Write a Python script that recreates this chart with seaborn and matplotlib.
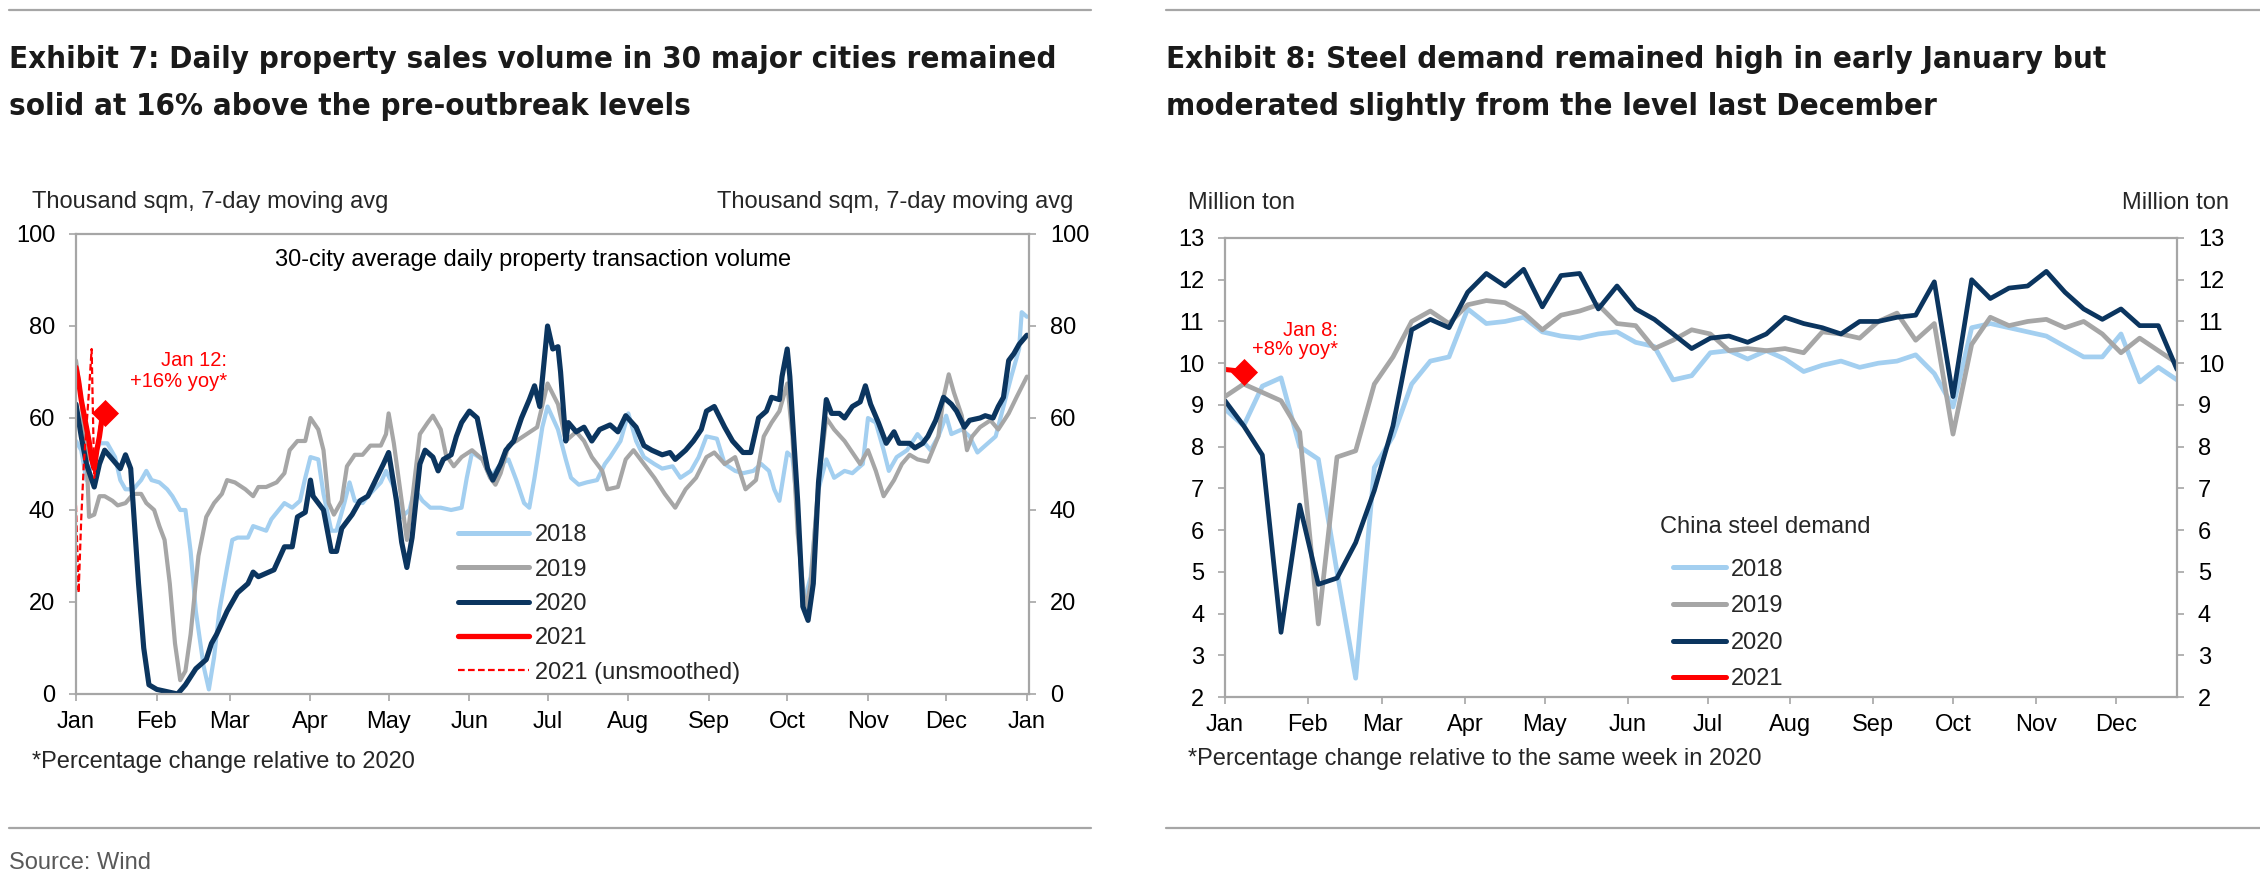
import numpy as np
import pandas as pd
import seaborn as sns
import matplotlib.pyplot as plt
from matplotlib import font_manager as fm
from matplotlib.lines import Line2D

# ---------------- Exhibit 7: daily sales, (day of year, thousand sqm)
sales_2018 = [(0,55),(2,53),(4,46.5),(6,50),(9,54.5),(12,54.5),(15,51.5),(17,46.5),(19,44.5),(22,44.5),
              (25,46.5),(27,48.5),(29,46.5),(32,46),(35,44.5),(37,43),(40,40),(42,40),(44,31),(46,18),
              (49,6),(51,1),(53,8),(55,18),(58,27.5),(60,33.5),(62,34),(66,34),(68,36.5),(73,35.5),
              (75,38),(80,41.5),(83,40.5),(86,42),(88,47),(90,51.5),(93,51),(95,43.5),(98,35.5),(100,35.5),
              (103,41.5),(105,46),(107,42),(110,41.5),(112,43),(117,46),(119,48.5),(122,45),(125,38.5),(128,40),
              (130,44.5),(133,42),(136,40.5),(140,40.5),(144,40),(148,40.5),(150,47),(152,52.5),(156,51),(159,47),
              (163,50),(166,51),(169,46.5),(172,41.5),(174,40.5),(176,47),(179,58),(181,62.5),(185,57.5),(188,51),
              (190,47),(193,45.5),(196,46),(200,46.5),(203,50),(205,51.5),(209,55),(212,61),(215,55),(218,51.5),
              (222,50),(225,49),(229,49.5),(232,47),(236,48.5),(239,51.5),(242,56),(246,55.5),(249,50),(253,48.5),
              (256,48),(260,48.5),(263,50),(266,48.5),(268,44.5),(270,42),(273,52.5),(275,51.5),(277,40),(279,19),
              (282,25.5),(285,44.5),(288,51),(291,47),(295,48.5),(298,48),(302,50),(304,60),(307,59),(310,53),
              (312,48.5),(315,51.5),(319,53),(323,56.5),(328,53),(331,56),(334,60.5),(336,56.5),(340,57.5),(343,56),
              (346,52.5),(350,54.5),(353,56),(356,62.5),(359,69),(362,75),(363,83),(365,82)]

sales_2019 = [(0,72.5),(2,64),(4,53),(5,38.5),(7,39),(9,43),(11,43),(14,42),(16,41),(19,41.5),
              (22,43.5),(25,43.5),(27,41.5),(30,40),(32,36.5),(34,33.5),(36,24),(38,11),(40,3),(42,5),
              (44,13),(47,30),(50,38.5),(53,41.5),(56,43.5),(58,46.5),(61,46),(65,44.5),(68,43),(70,45),
              (73,45),(77,46),(80,48),(82,53),(85,55),(88,55),(90,60),(93,57.5),(95,53),(97,41.5),
              (99,39),(102,42),(104,49.5),(107,52),(110,52),(113,54),(117,54),(119,56.5),(120,61),(122,54.5),
              (125,42),(127,33.5),(129,42),(132,56.5),(135,59),(137,60.5),(140,57.5),(142,52),(145,49.5),(148,51.5),
              (152,53),(156,51),(159,47),(161,45.5),(163,48),(166,54),(169,55),(173,56.5),(177,58),(181,67.5),
              (185,63),(188,55),(192,57),(195,55),(198,51.5),(202,48.5),(204,44.5),(208,45),(211,51),(214,53),
              (218,50),(222,47),(226,43.5),(230,40.5),(234,44.5),(238,47),(242,51.5),(245,52.5),(249,50),(253,51.5),
              (257,44.5),(261,46.5),(264,56),(267,59),(270,61.5),(273,67.5),(275,56),(277,35),(280,18),(282,24),
              (285,46),(288,60),(291,57.5),(295,55),(298,52.5),(301,50),(304,53),(307,48.5),(310,43),(314,46.5),
              (317,50),(320,52),(323,51),(327,50.5),(331,56),(333,64.5),(335,69.5),(337,65.5),(340,60.5),(342,53),
              (344,56),(347,58),(351,59.5),(354,57.5),(358,61),(361,64.5),(365,69)]

sales_2020 = [(0,63),(2,56),(4,50),(7,45),(9,50),(11,53),(14,51),(17,49),(19,52),(21,49),
              (24,24),(26,10),(28,2),(31,1),(39,0),(42,2),(46,5.5),(50,7.5),(52,11),(54,13),
              (58,18),(62,22),(66,24),(68,26.5),(70,25.5),(76,27),(80,32),(83,32),(85,38.5),(88,39.5),
              (90,46.5),(91,43),(95,40),(98,31),(100,31),(102,36),(106,39),(109,42),(112,43),(115,46.5),
              (118,50),(120,52.5),(123,42),(125,33),(127,27.5),(129,34),(132,50),(134,53),(137,51.5),(139,48.5),
              (141,51),(144,52),(146,56),(148,59),(151,61.5),(154,60),(156,54.5),(158,49),(160,46.5),(163,50),
              (165,53),(168,55),(171,60),(174,64),(176,67),(178,62.5),(181,80),(183,75),(185,75.5),(186,70),
              (188,55),(189,59),(192,57),(195,58),(198,55),(201,57.5),(205,58.5),(208,57),(211,60.5),(215,58),
              (218,54),(221,53),(225,52),(228,52.5),(230,51),(234,53),(237,55),(240,57.5),(242,61.5),(245,62.5),
              (249,58),(252,55),(256,52.5),(259,52.5),(262,60),(265,61.5),(267,64.5),(270,64),(271,69),(273,75),
              (274,69),(277,42),(279,19),(281,16),(283,24),(285,46),(288,64),(290,61),(293,61),(295,60),
              (298,62.5),(301,63.5),(303,67),(305,63),(308,59),(311,54.5),(314,57),(316,54.5),(320,54.5),(322,53.5),
              (325,54.5),(327,56),(330,59.5),(333,64.5),(336,63),(338,61.5),(341,58),(343,59.5),(347,60),(349,60.5),
              (352,60),(354,62.5),(356,64.5),(358,72.5),(360,74),(362,76),(365,78)]

days_2021 = [0, 1, 2, 3, 4, 5, 6, 7, 8, 9, 10, 11]
sales_2021 = [71, 68, 64, 61, 58, 55, 51, 49, 53, 56, 60, 61]
sales_2021_raw = [41, 22, 38, 50, 58, 66, 75, 47, 52, 58, 60, 61]

month_days = [0, 31, 59, 90, 120, 151, 181, 212, 243, 273, 304, 334, 365]
month_labels = ['Jan', 'Feb', 'Mar', 'Apr', 'May', 'Jun', 'Jul', 'Aug', 'Sep', 'Oct', 'Nov', 'Dec', 'Jan']

# ---------------- Exhibit 8: weekly steel demand, million ton
week_days = list(range(0, 358, 7))
steel_2018 = [8.9,8.5,9.45,9.65,8.0,7.7,5.0,2.45,7.5,8.25,9.5,10.05,10.15,11.3,10.95,11.0,11.1,10.75,10.65,10.6,
              10.7,10.75,10.5,10.4,9.6,9.7,10.25,10.3,10.1,10.3,10.1,9.8,9.95,10.05,9.9,10.0,10.05,10.2,9.75,8.95,
              10.85,10.95,10.85,10.75,10.65,10.4,10.15,10.15,10.7,9.55,9.9,9.6]
steel_2019 = [9.2,9.5,9.3,9.1,8.35,3.75,7.75,7.9,9.5,10.15,11.0,11.25,10.95,11.4,11.5,11.45,11.2,10.8,11.15,11.25,
              11.4,10.95,10.9,10.35,10.55,10.8,10.7,10.3,10.35,10.3,10.35,10.25,10.75,10.7,10.6,11.0,11.2,10.55,10.95,8.3,
              10.45,11.1,10.9,11.0,11.05,10.85,11.0,10.7,10.25,10.6,10.3,10.0]
steel_2020 = [9.1,8.5,7.8,3.55,6.6,4.7,4.85,5.7,6.95,8.5,10.8,11.05,10.85,11.7,12.15,11.85,12.25,11.35,12.1,12.15,
              11.3,11.85,11.3,11.05,10.7,10.35,10.6,10.65,10.5,10.7,11.1,10.95,10.85,10.7,11.0,11.0,11.1,11.15,11.95,9.2,
              12.0,11.55,11.8,11.85,12.2,11.7,11.3,11.05,11.3,10.9,10.9,9.85]
steel_2021 = [9.85, 9.8]

colors = {'2018': '#A3CFF0', '2019': '#A6A6A6', '2020': '#0B355F', '2021': '#FF0000'}

sns.set_theme(style='white')
plt.rcParams['font.family'] = ['Liberation Sans', 'DejaVu Sans']

# a narrow bold face for the headlines if one is installed
title_fp = None
for f in fm.fontManager.ttflist:
    bold = f.weight in ('bold', 700, 'heavy', 800) or str(f.weight) in ('700', '800')
    narrow = ('Narrow' in f.name or 'Condensed' in f.name
              or f.stretch in ('condensed', 'semi-condensed', 'extra-condensed', 500 - 100, 300, 200))
    if bold and narrow and f.style == 'normal':
        title_fp = fm.FontProperties(fname=f.fname)
        break
if title_fp is None:
    title_fp = fm.FontProperties(family='Liberation Sans', weight='bold')

W, H = 2260, 886
fig = plt.figure(figsize=(W / 100, H / 100), dpi=100)


def fx(px):
    return px / W


def fy(py):
    return 1 - py / H


ax1 = fig.add_axes([fx(76), fy(694), (1029 - 76) / W, (694 - 234) / H])
ax2 = fig.add_axes([fx(1225), fy(697), (2177 - 1225) / W, (697 - 238) / H])

# left chart lines
for yr, pts, lw in [('2018', sales_2018, 3.0), ('2019', sales_2019, 3.0), ('2020', sales_2020, 3.7)]:
    d = pd.DataFrame(pts, columns=['day', 'value'])
    sns.lineplot(data=d, x='day', y='value', ax=ax1, color=colors[yr], linewidth=lw,
                 estimator=None, legend=False)
d21 = pd.DataFrame({'day': days_2021, 'smooth': sales_2021, 'raw': sales_2021_raw})
sns.lineplot(data=d21, x='day', y='raw', ax=ax1, color=colors['2021'], linewidth=1.6,
             linestyle=(0, (3, 1.5)), estimator=None, legend=False)
sns.lineplot(data=d21, x='day', y='smooth', ax=ax1, color=colors['2021'], linewidth=3.8,
             estimator=None, legend=False)
sns.scatterplot(data=d21.tail(1), x='day', y='smooth', ax=ax1, color=colors['2021'],
                marker='D', s=190, linewidth=0, legend=False, zorder=5)

# right chart lines
steel = pd.DataFrame({'day': week_days, '2018': steel_2018, '2019': steel_2019, '2020': steel_2020})
for yr in ['2018', '2019', '2020']:
    sns.lineplot(data=steel, x='day', y=yr, ax=ax2, color=colors[yr], linewidth=3.4,
                 estimator=None, legend=False)
s21 = pd.DataFrame({'day': week_days[:len(steel_2021)], 'value': steel_2021})
sns.lineplot(data=s21, x='day', y='value', ax=ax2, color=colors['2021'], linewidth=3.6,
             estimator=None, legend=False)
sns.scatterplot(data=s21.tail(1), x='day', y='value', ax=ax2, color=colors['2021'],
                marker='D', s=190, linewidth=0, legend=False, zorder=5)

# axes styling
ax1.set_xlim(0, 365.8)
ax1.set_ylim(0, 100)
ax1.set_yticks(range(0, 101, 20))
ax1.set_xticks(month_days)
ax1.set_xticklabels(month_labels)
ax2.set_xlim(0, 357)
ax2.set_ylim(2, 13)
ax2.set_yticks(range(2, 14))
ax2.set_xticks(month_days[:-1])
ax2.set_xticklabels(month_labels[:-1])

for ax in (ax1, ax2):
    ax.set_xlabel('')
    ax.set_ylabel('')
    for s in ax.spines.values():
        s.set_color('#A6A6A6')
        s.set_linewidth(1.6)
    ax.tick_params(axis='both', direction='out', length=5, width=1.2, color='#A6A6A6',
                   labelsize=17, labelcolor='black')
    ax.tick_params(axis='y', left=True, right=True, labelleft=True, labelright=True, pad=10)
    ax.tick_params(axis='x', bottom=True, pad=7)

ax1.text(0.48, 0.943, '30-city average daily property transaction volume', transform=ax1.transAxes,
         ha='center', va='center', fontsize=17, color='black')

# legends
h1 = [Line2D([], [], color=colors['2018'], lw=3.6),
      Line2D([], [], color=colors['2019'], lw=3.6),
      Line2D([], [], color=colors['2020'], lw=3.6),
      Line2D([], [], color=colors['2021'], lw=3.8),
      Line2D([], [], color=colors['2021'], lw=1.6, ls=(0, (3, 1.5)))]
fig.legend(h1, ['2018', '2019', '2020', '2021', '2021 (unsmoothed)'], loc='center left',
           bbox_to_anchor=(fx(458), fy(604)), frameon=False, fontsize=17, handlelength=3.0,
           handletextpad=0.25, labelspacing=0.52, borderpad=0, borderaxespad=0)
h2 = [Line2D([], [], color=colors[y], lw=3.6) for y in ['2018', '2019', '2020', '2021']]
fig.legend(h2, ['2018', '2019', '2020', '2021'], loc='center left',
           bbox_to_anchor=(fx(1673), fy(624.5)), frameon=False, fontsize=17, handlelength=2.25,
           handletextpad=0.2, labelspacing=0.62, borderpad=0, borderaxespad=0)
fig.text(fx(1660), fy(527), 'China steel demand', ha='left', va='center', fontsize=17)

# annotations
fig.text(fx(227), fy(371), 'Jan 12:\n+16% yoy*', ha='right', va='center', fontsize=14.5,
         color='#FF0000', linespacing=1.1, multialignment='right')
fig.text(fx(1338), fy(340), 'Jan 8:\n+8% yoy*', ha='right', va='center', fontsize=14.5,
         color='#FF0000', linespacing=1.05, multialignment='right')

# axis unit labels
fig.text(fx(32), fy(202), 'Thousand sqm, 7-day moving avg', ha='left', va='center', fontsize=17)
fig.text(fx(1073), fy(202), 'Thousand sqm, 7-day moving avg', ha='right', va='center', fontsize=17)
fig.text(fx(1188), fy(203), 'Million ton', ha='left', va='center', fontsize=17)
fig.text(fx(2229), fy(203), 'Million ton', ha='right', va='center', fontsize=17)

# footnotes and source
fig.text(fx(32), fy(762), '*Percentage change relative to 2020', ha='left', va='center', fontsize=17)
fig.text(fx(1188), fy(759), '*Percentage change relative to the same week in 2020', ha='left',
         va='center', fontsize=17)
fig.text(fx(9), fy(863), 'Source: Wind', ha='left', va='center', fontsize=17, color='#595959')

# rules
for x0, x1 in [(9, 1091), (1166, 2260)]:
    for yy in (10, 828):
        fig.add_artist(Line2D([fx(x0), fx(x1)], [fy(yy), fy(yy)], transform=fig.transFigure,
                              color='#A6A6A6', lw=1.6))

# titles, sized so the first line fits its measured width
fig.canvas.draw()
rend = fig.canvas.get_renderer()
t1 = fig.text(fx(9), fy(68), 'Exhibit 7: Daily property sales volume in 30 major cities remained',
              ha='left', va='baseline', fontproperties=title_fp, fontsize=28, color='#1A1A1A')
size = min(30, 28 * 1045 / t1.get_window_extent(rend).width)
t1.set_fontsize(size)
for x, y, s in [(9, 115, 'solid at 16% above the pre-outbreak levels'),
                (1166, 68, 'Exhibit 8: Steel demand remained high in early January but'),
                (1166, 115, 'moderated slightly from the level last December')]:
    fig.text(fx(x), fy(y), s, ha='left', va='baseline', fontproperties=title_fp, fontsize=size,
             color='#1A1A1A')

fig.savefig('out.png', dpi=100)
